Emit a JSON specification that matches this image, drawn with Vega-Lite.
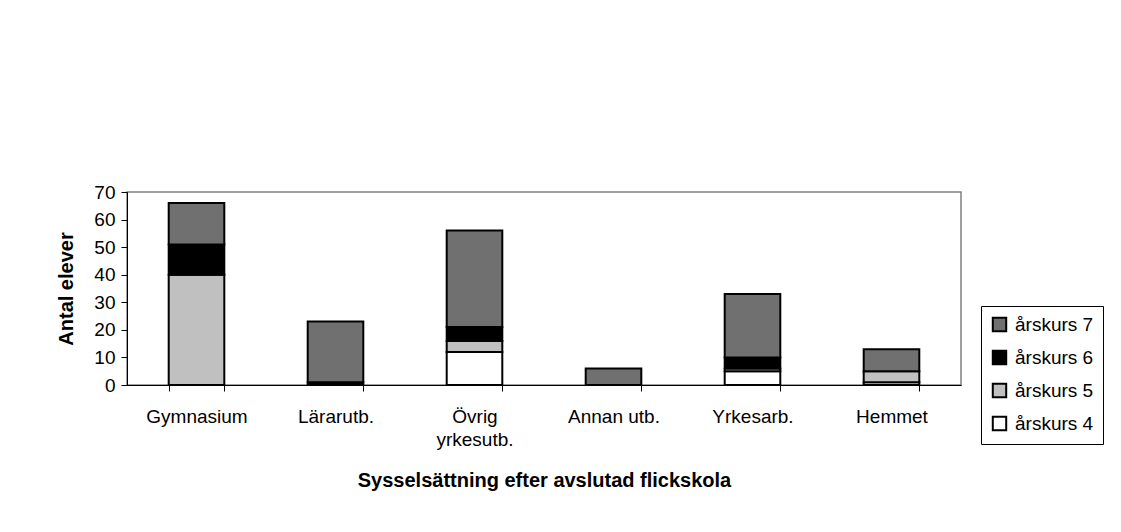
{
  "$schema": "https://vega.github.io/schema/vega-lite/v6.json",
  "width": 834,
  "height": 193,
  "autosize": {"type": "none"},
  "padding": {"left": 127, "top": 192, "right": 160, "bottom": 147},
  "background": "white",
  "config": {"font": "Liberation Sans", "view": {"stroke": "#808080", "strokeWidth": 1.5}},
  "data": {"values": [
    {"cat": "Gymnasium", "series": "årskurs 5", "level": 5, "count": 40},
    {"cat": "Gymnasium", "series": "årskurs 6", "level": 6, "count": 11},
    {"cat": "Gymnasium", "series": "årskurs 7", "level": 7, "count": 15},
    {"cat": "Lärarutb.", "series": "årskurs 6", "level": 6, "count": 1},
    {"cat": "Lärarutb.", "series": "årskurs 7", "level": 7, "count": 22},
    {"cat": "Övrig yrkesutb.", "series": "årskurs 4", "level": 4, "count": 12},
    {"cat": "Övrig yrkesutb.", "series": "årskurs 5", "level": 5, "count": 4},
    {"cat": "Övrig yrkesutb.", "series": "årskurs 6", "level": 6, "count": 5},
    {"cat": "Övrig yrkesutb.", "series": "årskurs 7", "level": 7, "count": 35},
    {"cat": "Annan utb.", "series": "årskurs 7", "level": 7, "count": 6},
    {"cat": "Yrkesarb.", "series": "årskurs 4", "level": 4, "count": 5},
    {"cat": "Yrkesarb.", "series": "årskurs 5", "level": 5, "count": 1},
    {"cat": "Yrkesarb.", "series": "årskurs 6", "level": 6, "count": 4},
    {"cat": "Yrkesarb.", "series": "årskurs 7", "level": 7, "count": 23},
    {"cat": "Hemmet", "series": "årskurs 4", "level": 4, "count": 1},
    {"cat": "Hemmet", "series": "årskurs 5", "level": 5, "count": 4},
    {"cat": "Hemmet", "series": "årskurs 7", "level": 7, "count": 8}
  ]},
  "mark": {"type": "bar", "stroke": "black", "strokeWidth": 2},
  "encoding": {
    "x": {
      "field": "cat", "type": "nominal", "sort": null,
      "title": "Sysselsättning efter avslutad flickskola",
      "scale": {"paddingInner": 0.6, "paddingOuter": 0.3},
      "axis": {
        "labelAngle": 0, "labelFontSize": 19, "labelColor": "black", "labelPadding": 16,
        "labelOverlap": false, "labelLineHeight": 23,
        "labelExpr": "datum.value == 'Övrig yrkesutb.' ? split(datum.value, ' ') : datum.label",
        "tickBand": "extent", "tickSize": 6, "tickColor": "black", "domainColor": "black",
        "titleFontSize": 20, "titleFontWeight": "bold", "titleColor": "black",
        "titleY": 101, "titleBaseline": "alphabetic"
      }
    },
    "y": {
      "field": "count", "type": "quantitative", "stack": "zero",
      "title": "Antal elever",
      "scale": {"domain": [0, 70]},
      "axis": {
        "values": [0, 10, 20, 30, 40, 50, 60, 70], "grid": false,
        "labelFontSize": 19, "labelColor": "black", "labelPadding": 6,
        "tickSize": 6, "tickColor": "black", "domainColor": "black",
        "titleFontSize": 20, "titleFontWeight": "bold", "titleColor": "black",
        "titleX": -55, "titleBaseline": "alphabetic"
      }
    },
    "color": {
      "field": "series", "type": "nominal",
      "scale": {"domain": ["årskurs 7", "årskurs 6", "årskurs 5", "årskurs 4"], "range": ["#707070", "#000000", "#c0c0c0", "#ffffff"]},
      "legend": {
        "orient": "none", "legendX": 854, "legendY": 114, "title": null,
        "strokeColor": "black", "padding": 9, "fillColor": "white",
        "symbolType": "square", "symbolSize": 180, "symbolStrokeColor": "black", "symbolStrokeWidth": 2,
        "labelFontSize": 19, "labelColor": "black", "labelOffset": 6, "rowPadding": 10
      }
    },
    "order": {"field": "level", "type": "quantitative", "sort": "ascending"}
  }
}
